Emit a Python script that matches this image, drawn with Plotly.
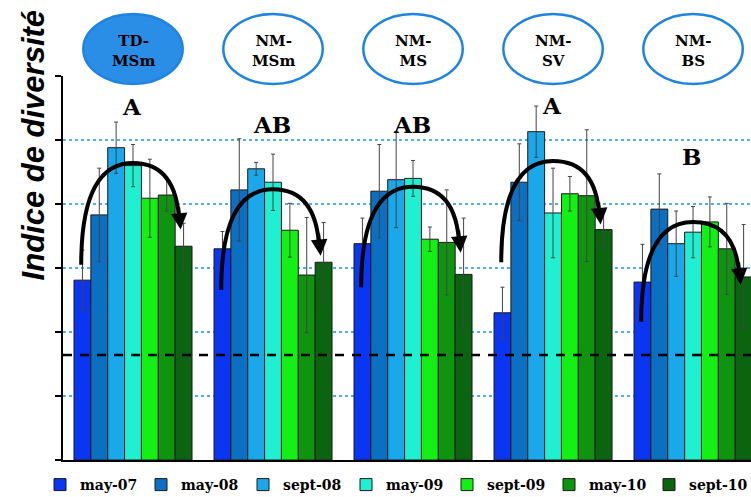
import plotly.graph_objects as go

# ---------------- data ----------------
groups = ["TD-MSm", "NM-MSm", "NM-MS", "NM-SV", "NM-BS"]
group_labels = ["TD-<br>MSm", "NM-<br>MSm", "NM-<br>MS", "NM-<br>SV", "NM-<br>BS"]
letters = ["A", "AB", "AB", "A", "B"]
series_names = ["may-07", "may-08", "sept-08", "may-09", "sept-09", "may-10", "sept-10"]

may_07 = [2.81, 3.30, 3.38, 2.30, 2.78]
may_08 = [3.83, 4.22, 4.20, 4.34, 3.92]
sept_08 = [4.88, 4.55, 4.38, 5.13, 3.38]
may_09 = [4.60, 4.34, 4.40, 3.86, 3.56]
sept_09 = [4.09, 3.59, 3.45, 4.16, 3.72]
may_10 = [4.14, 2.89, 3.40, 4.13, 3.30]
sept_10 = [3.34, 3.09, 2.90, 3.60, 2.86]

may_07_err = [0.47, 0.27, 0.40, 0.40, 0.59]
may_08_err = [0.73, 0.80, 0.73, 0.60, 0.55]
sept_08_err = [0.40, 0.10, 0.75, 0.40, 0.51]
may_09_err = [0.33, 0.44, 0.28, 0.70, 0.40]
sept_09_err = [0.61, 0.42, 0.19, 0.27, 0.39]
may_10_err = [0.25, 0.90, 0.82, 1.03, 0.71]
sept_10_err = [0.36, 0.62, 0.88, 0.28, 0.82]

threshold = 1.64  # dashed reference line

# trend arrows (decoration): y of start, peak and end per group
arrow_start = [3.05, 2.66, 2.70, 3.09, 2.16]
arrow_peak = [4.64, 4.23, 4.27, 4.67, 3.72]
arrow_end = [3.72, 3.31, 3.36, 3.80, 2.86]
letter_y = [5.52, 5.25, 5.25, 5.54, 4.75]

# ---------------- styling ----------------
values = [may_07, may_08, sept_08, may_09, sept_09, may_10, sept_10]
errors = [may_07_err, may_08_err, sept_08_err, may_09_err, sept_09_err, may_10_err, sept_10_err]
colors = ["#0a35f2", "#0c70c2", "#1aa8ea", "#1ff0d2", "#14f014", "#0f940f", "#0a6410"]
legend_px = [64, 165, 267, 370, 471, 573, 673]   # legend symbol positions (pixels)

x_idx = list(range(len(groups)))
serif = "DejaVu Serif"

fig = go.Figure()
legend_layouts = {}
for i, (name, vals, errs, col) in enumerate(zip(series_names, values, errors, colors)):
    lg = "legend" if i == 0 else f"legend{i + 1}"
    fig.add_trace(go.Bar(
        x=x_idx, y=vals, name=name, legend=lg,
        marker=dict(color=col, line=dict(color="#1a1a1a", width=1)),
        error_y=dict(type="data", array=errs, visible=True,
                     color="#444444", thickness=1, width=2),
    ))
    legend_layouts[lg] = dict(
        orientation="h", xref="container", yref="container",
        x=(legend_px[i] - 24) / 751, xanchor="left", y=12 / 497, yanchor="middle",
        itemwidth=30, bgcolor="rgba(0,0,0,0)",
        font=dict(family=serif, size=14, color="black", weight="bold"))

shapes = []
annotations = []

# dashed threshold line
shapes.append(dict(type="line", xref="paper", yref="y", x0=0, x1=1,
                   y0=threshold, y1=threshold,
                   line=dict(color="black", width=2.5, dash="9px,8px")))
# x-axis line stub extending slightly left of the y axis
shapes.append(dict(type="line", xref="paper", yref="paper", x0=-0.008, x1=0,
                   y0=0, y1=0, line=dict(color="black", width=2)))

# plot area pixel geometry helpers (paper coords)
plot_top_px, plot_bot_px = 76, 460
def py(p):
    return (plot_bot_px - p) / (plot_bot_px - plot_top_px)

for g in x_idx:
    # ellipse labels above the plot
    filled = (g == 0)
    shapes.append(dict(type="circle", xref="x", yref="paper",
                       x0=g - 0.355, x1=g + 0.355, y0=py(84), y1=py(14),
                       fillcolor="#2a8de6" if filled else "white",
                       line=dict(color="#1e84e0", width=2.5), layer="above"))
    annotations.append(dict(x=g, y=py(51), xref="x", yref="paper",
                            xanchor="center", yanchor="middle",
                            text=group_labels[g], showarrow=False,
                            font=dict(family=serif, size=15, color="black", weight="bold"),
                            align="center"))
    # significance letters
    annotations.append(dict(x=g - 0.01, y=letter_y[g], xref="x", yref="y",
                            xanchor="center", yanchor="middle",
                            text=letters[g], showarrow=False,
                            font=dict(family=serif, size=23, color="black", weight="bold")))
    # curved trend arrow
    xs, xe = g - 0.37, g + 0.33
    ys, yp, ye = arrow_start[g], arrow_peak[g], arrow_end[g]
    path = (f"M {xs},{ys} Q {xs},{yp} {g},{yp} "
            f"Q {xe - 0.02},{yp} {xe},{ye}")
    shapes.append(dict(type="path", xref="x", yref="y", path=path,
                       line=dict(color="black", width=4), layer="above"))
    annotations.append(dict(x=xe + 0.01, y=ye - 0.12, ax=xe - 0.005, ay=ye + 0.25,
                            xref="x", yref="y", axref="x", ayref="y",
                            text="", showarrow=True, arrowhead=2,
                            arrowsize=1.1, arrowwidth=3, arrowcolor="black"))

# y-axis title
annotations.append(dict(x=-0.043, y=py(145), xref="paper", yref="paper",
                        xanchor="center", yanchor="middle",
                        text="Indice de diversité", textangle=-90, showarrow=False,
                        font=dict(family="Liberation Sans", size=31, color="black",
                                  weight="bold", style="italic")))

fig.update_layout(
    width=751, height=497,
    margin=dict(l=63, r=0, t=76, b=37, autoexpand=False),
    paper_bgcolor="white", plot_bgcolor="white",
    barmode="group", bargap=0.157, bargroupgap=0,
    showlegend=True,
    xaxis=dict(range=[-0.5, 4.414], showticklabels=False, ticks="",
               showgrid=False, zeroline=False, showline=True,
               linecolor="black", linewidth=2),
    yaxis=dict(range=[0, 6], tickvals=[0, 1, 2, 3, 4, 5, 6], showticklabels=False,
               ticks="outside", ticklen=6, tickwidth=2, tickcolor="black",
               showgrid=True, gridcolor="#4fb0e6", griddash="dot", gridwidth=1.5,
               zeroline=False, showline=True, linecolor="black", linewidth=2),
    shapes=shapes, annotations=annotations,
)
fig.update_layout(**legend_layouts)

fig.write_html("out.html", config={"displayModeBar": False},
               post_script="document.body.style.margin='0px';document.body.style.overflow='hidden';")
